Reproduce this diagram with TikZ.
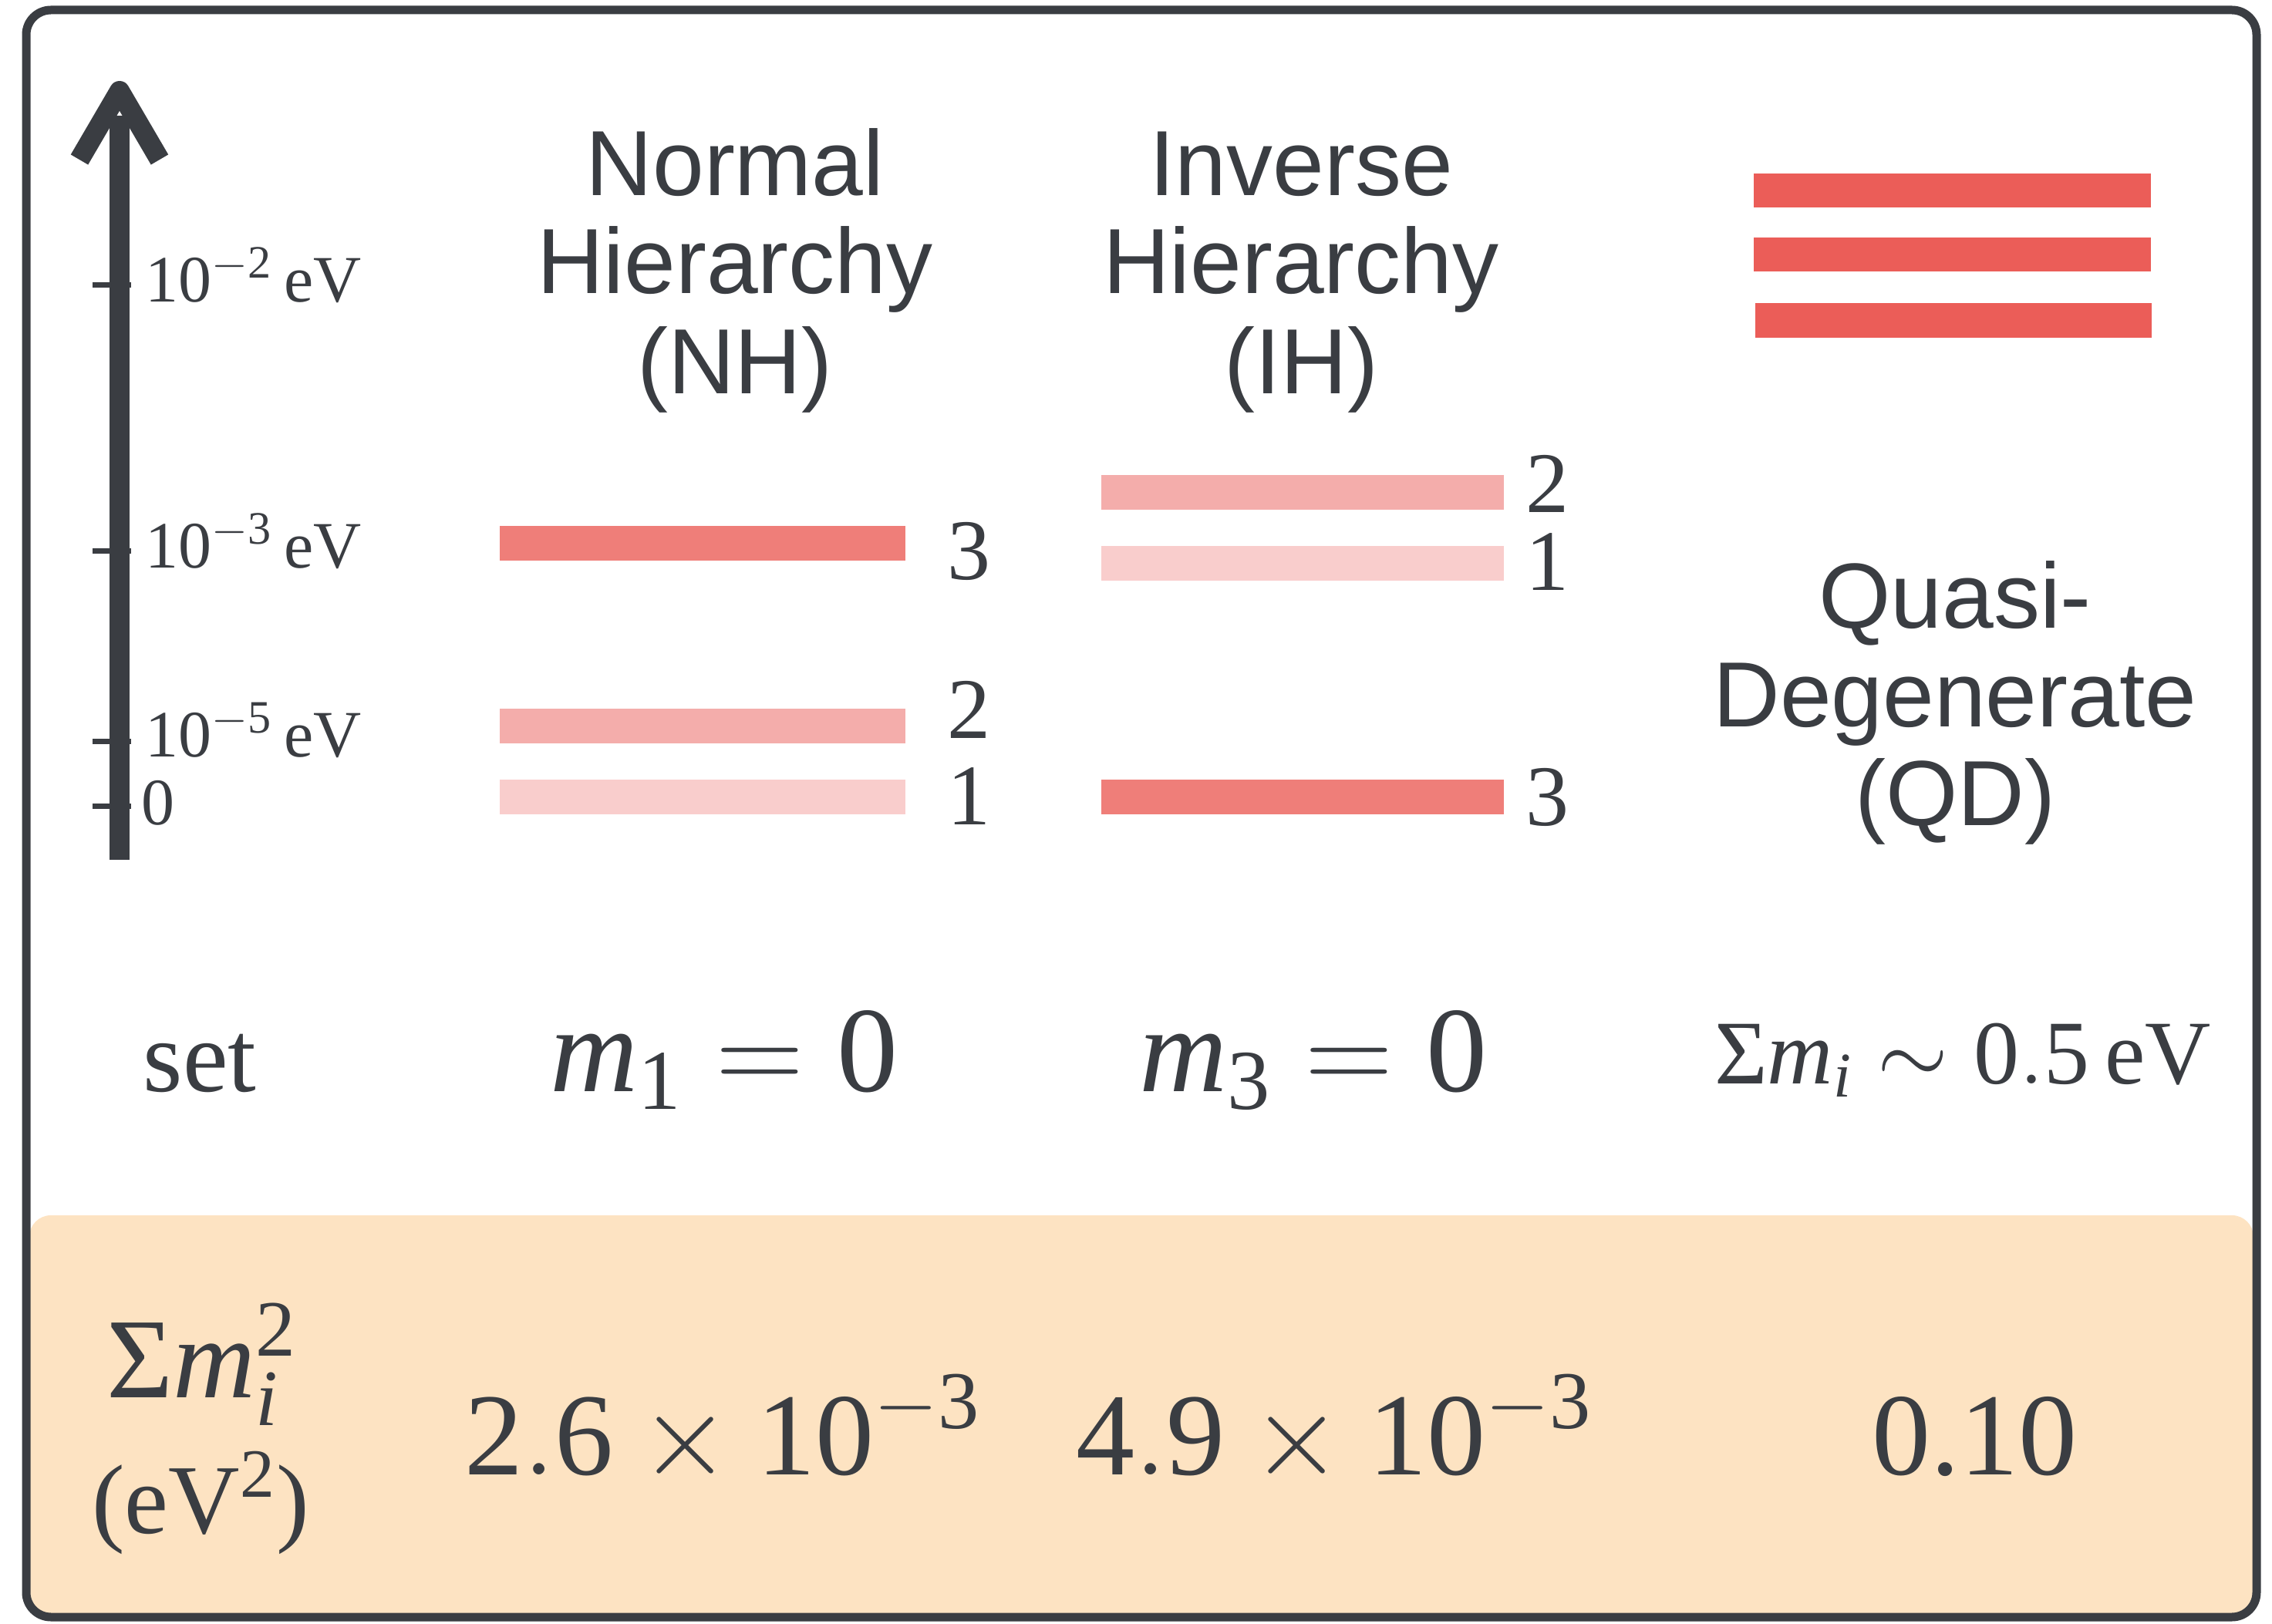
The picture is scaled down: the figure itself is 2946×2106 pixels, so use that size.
\RequirePackage{fix-cm}
\documentclass[tikz,border=0pt]{standalone}
\usepackage{fontspec}
\setmainfont{Liberation Serif}
\setsansfont{Liberation Sans}
\definecolor{ink}{HTML}{3A3D42}
\definecolor{lvA}{HTML}{F9CDCC}
\definecolor{lvB}{HTML}{F4ADAB}
\definecolor{lvC}{HTML}{EF7E79}
\definecolor{lvQ}{HTML}{EB5D58}
\definecolor{band}{HTML}{FDE3C2}
\tikzset{
  txt/.style={inner sep=0pt, text=ink},
  axlab/.style={txt, anchor=base west, font=\fontsize{21.5}{25}\selectfont},
  barlab/.style={txt, anchor=base west, font=\fontsize{28}{32}\selectfont},
  head/.style={txt, anchor=base, font=\sffamily\fontsize{30}{34}\selectfont},
  bigmath/.style={txt, anchor=base, font=\fontsize{39.5}{46}\selectfont},
  qdmath/.style={txt, anchor=base, font=\fontsize{29.5}{34}\selectfont},
  valmath/.style={txt, anchor=base, font=\fontsize{38}{44}\selectfont},
  tickline/.style={draw=ink, line width=1.75pt},
}
\begin{document}
\begin{tikzpicture}[x=0.25pt, y=-0.25pt]
\useasboundingbox (0,0) rectangle (2946,2106);
% bottom band
\fill[band, rounded corners=7pt] (38,1576) rectangle (2922,2094);
% frame
\draw[ink, line width=2.75pt, rounded corners=8pt] (34,13) rectangle (2926,2097);
% axis
\coordinate (axbot) at (155,1115);
\coordinate (axtop) at (155,118);
\coordinate (hl) at (103,207);
\coordinate (hr) at (207,207);
\draw[ink, line width=6.5pt] (axbot) -- (155,150);
\draw[ink, line width=6.5pt, line join=round] (hl) -- (axtop) -- (hr);
% ticks
\foreach \ty/\nm in {370/t2, 715/t3, 962/t5, 1046/t0} {
  \coordinate (\nm a) at (120,\ty);
  \coordinate (\nm b) at (170,\ty);
  \draw[tickline] (\nm a) -- (\nm b);
}
\node[axlab] (l2) at (188,392) {10$^{-\mathrm{2}}$\,eV};
\node[axlab] (l3) at (188,737) {10$^{-\mathrm{3}}$\,eV};
\node[axlab] (l5) at (188,982) {10$^{-\mathrm{5}}$\,eV};
\node[axlab] (l0) at (183,1070) {0};
% headers
\node[head] (nh1) at (953,254) {Normal};
\node[head] (nh2) at (953,381) {Hierarchy};
\node[head] (nh3) at (953,511) {(NH)};
\node[head] (ih1) at (1687,254) {Inverse};
\node[head] (ih2) at (1687,381) {Hierarchy};
\node[head] (ih3) at (1687,511) {(IH)};
\node[head] (qd1) at (2535,815) {Quasi-};
\node[head] (qd2) at (2535,943) {Degenerate};
\node[head] (qd3) at (2535,1071) {(QD)};
% NH bars
\fill[lvC] (648,682) rectangle (1174,727);
\fill[lvB] (648,919) rectangle (1174,964);
\fill[lvA] (648,1011) rectangle (1174,1056);
\node[barlab] (nhl3) at (1228,752) {3};
\node[barlab] (nhl2) at (1228,958) {2};
\node[barlab] (nhl1) at (1228,1070) {1};
% IH bars
\fill[lvB] (1428,616) rectangle (1950,661);
\fill[lvA] (1428,708) rectangle (1950,753);
\fill[lvC] (1428,1011) rectangle (1950,1056);
\node[barlab] (ihl2) at (1978,665) {2};
\node[barlab] (ihl1) at (1978,766) {1};
\node[barlab] (ihl3) at (1978,1071) {3};
% QD bars
\fill[lvQ] (2274,225) rectangle (2789,269);
\fill[lvQ] (2274,308) rectangle (2789,352);
\fill[lvQ] (2276,393) rectangle (2790,438);
% settings row
\node[txt, anchor=base, font=\fontsize{33}{38}\selectfont] (set) at (259,1415) {set};
\node[bigmath] (mnh) at (939,1415) {$\mathit{m}_{\mathrm{1}} = \mathrm{0}$};
\node[bigmath] (mih) at (1703,1415) {$\mathit{m}_{\mathrm{3}} = \mathrm{0}$};
\node[qdmath] (mqd) at (2545,1405) {Σ$\mathit{m}_{\mathit{i}}\sim \mathrm{0.5}$\,eV};
% band row
\node[txt, anchor=base, font=\fontsize{37}{42}\selectfont] (sq1) at (262,1812) {Σ$\mathit{m}_{\mathit{i}}^{\mathrm{2}}$};
\node[txt, anchor=base, font=\fontsize{32}{37}\selectfont] (sq2) at (260,1988) {(eV$^{\mathrm{2}}$)};
\node[valmath] (vnh) at (937,1912) {$\mathrm{2.6}\times\mathrm{10}^{-\mathrm{3}}$};
\node[valmath] (vih) at (1730,1912) {$\mathrm{4.9}\times\mathrm{10}^{-\mathrm{3}}$};
\node[valmath] (vqd) at (2560,1912) {0.10};
\end{tikzpicture}
\end{document}
